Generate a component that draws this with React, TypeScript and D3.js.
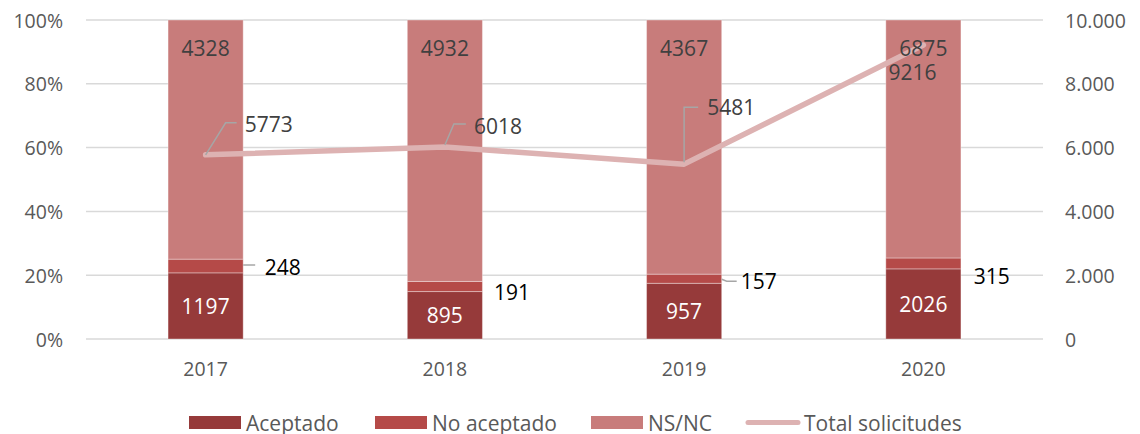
import React from 'react';
import * as d3 from 'd3';

const years = ['2017', '2018', '2019', '2020'];
const aceptado = [1197, 895, 957, 2026];
const noAceptado = [248, 191, 157, 315];
const nsnc = [4328, 4932, 4367, 6875];
const totales = [5773, 6018, 5481, 9216];
const pctTicks = [0, 0.2, 0.4, 0.6, 0.8, 1];
const countTicks = [0, 2000, 4000, 6000, 8000, 10000];
const seriesNames = ['Aceptado', 'No aceptado', 'NS/NC', 'Total solicitudes'];

const colors = ['#963A3A', '#B54A48', '#C87C7B', '#DDB2B2'];

// hand-placed label offsets (Excel moved these by hand)
const totalLabelPos = [
  { leader: [[0, 0], [20, -32], [31, -32]], dx: 39, dy: -31 },
  { leader: [[0, -2], [9, -23], [21, -23]], dx: 29, dy: -21 },
  { leader: [[0, -2], [0, -57], [14, -57]], dx: 23, dy: -57 },
  { leader: [], dx: -35, dy: 27 },
];
const noAcepLabelPos = [
  { leader: [[0, -1], [12, -1]], dx: 21.5, dy: 1 },
  { leader: [], dx: 11.5, dy: 5.5 },
  { leader: [[0, 0.5], [5, 2.5], [15, 2.5]], dx: 19, dy: 2.5 },
  { leader: [], dx: 12.7, dy: 12.5 },
];

const W = 1140;
const H = 434;
const font = '"Open Sans", sans-serif';

export default function App() {
  const x = d3.scaleBand<string>().domain(years).range([86, 1043]).padding(0);
  const barW = x.bandwidth() * 0.314;
  const yPct = d3.scaleLinear().domain([0, 1]).range([339, 20]);
  const yCount = d3.scaleLinear().domain([0, 10000]).range([339, 20]);
  const fmtCount = d3.formatLocale({ decimal: ',', thousands: '.', grouping: [3], currency: ['', '€'] }).format(',d');

  const cx = (i: number) => (x(years[i]) || 0) + x.bandwidth() / 2;

  const stacks = years.map((_, i) => {
    const tot = aceptado[i] + noAceptado[i] + nsnc[i];
    const a = aceptado[i] / tot;
    const b = a + noAceptado[i] / tot;
    return [[0, a], [a, b], [b, 1]];
  });

  const line = d3.line<number>()
    .x((_, i) => cx(i))
    .y(d => yCount(d));

  const leaderPath = d3.line<number[]>().x(p => p[0]).y(p => p[1]);

  const legendItems = [
    { x: 189, textX: 246 },
    { x: 375, textX: 432 },
    { x: 591, textX: 648 },
    { x: 745, textX: 804 },
  ];

  return (
    <svg width={W} height={H} style={{ position: 'absolute', left: 0, top: 0, background: '#fff' }} fontFamily={font}>
      {/* gridlines */}
      {pctTicks.map(t => (
        <line key={t} x1={86} x2={1043} y1={yPct(t)} y2={yPct(t)} stroke="#D9D9D9" strokeWidth={1.5} />
      ))}

      {/* left axis */}
      {pctTicks.map(t => (
        <text key={t} x={63} y={yPct(t)} textAnchor="end" dominantBaseline="central" fontSize={19.5} fill="#595959">
          {Math.round(t * 100)}%
        </text>
      ))}

      {/* right axis */}
      {countTicks.map(t => (
        <text key={t} x={1065} y={yCount(t)} dominantBaseline="central" fontSize={19.5} fill="#595959">
          {fmtCount(t)}
        </text>
      ))}

      {/* x labels */}
      {years.map((yr, i) => (
        <text key={yr} x={cx(i)} y={368} textAnchor="middle" dominantBaseline="central" fontSize={19.5} fill="#595959">
          {yr}
        </text>
      ))}

      {/* stacked bars */}
      {stacks.map((segs, i) => (
        <g key={i}>
          {segs.map((s, j) => (
            <rect
              key={j}
              x={cx(i) - barW / 2}
              y={yPct(s[1])}
              width={barW}
              height={yPct(s[0]) - yPct(s[1])}
              fill={colors[j]}
              stroke="#ffffff"
              strokeOpacity={0.35}
              strokeWidth={1}
            />
          ))}
        </g>
      ))}

      {/* total line */}
      <path d={line(totales) || undefined} fill="none" stroke={colors[3]} strokeWidth={5.5} strokeLinecap="round" strokeLinejoin="round" />

      {/* aceptado labels */}
      {stacks.map((segs, i) => (
        <text key={i} x={cx(i)} y={(yPct(segs[0][0]) + yPct(segs[0][1])) / 2} textAnchor="middle" dominantBaseline="central" fontSize={21} fill="#ffffff">
          {aceptado[i]}
        </text>
      ))}

      {/* no aceptado labels */}
      {stacks.map((segs, i) => {
        const bx = cx(i) + barW / 2;
        const my = (yPct(segs[1][0]) + yPct(segs[1][1])) / 2;
        const pos = noAcepLabelPos[i];
        return (
          <g key={i}>
            {pos.leader.length > 0 && (
              <path d={leaderPath(pos.leader.map(p => [bx + p[0], my + p[1]])) || undefined} fill="none" stroke="#A6A6A6" strokeWidth={1.5} />
            )}
            <text x={bx + pos.dx} y={my + pos.dy} dominantBaseline="central" fontSize={21} fill="#000000">
              {noAceptado[i]}
            </text>
          </g>
        );
      })}

      {/* ns/nc labels (inside end) */}
      {years.map((_, i) => (
        <text key={i} x={cx(i)} y={yPct(1) + 28} textAnchor="middle" dominantBaseline="central" fontSize={21} fill="#404040">
          {nsnc[i]}
        </text>
      ))}

      {/* total labels */}
      {totales.map((v, i) => {
        const px = cx(i);
        const py = yCount(v);
        const pos = totalLabelPos[i];
        return (
          <g key={i}>
            {pos.leader.length > 0 && (
              <path d={leaderPath(pos.leader.map(p => [px + p[0], py + p[1]])) || undefined} fill="none" stroke="#A6A6A6" strokeWidth={1.5} />
            )}
            <text x={px + pos.dx} y={py + pos.dy} dominantBaseline="central" fontSize={21} fill="#404040">
              {v}
            </text>
          </g>
        );
      })}

      {/* legend */}
      {seriesNames.map((name, i) => (
        <g key={name}>
          {i < 3 ? (
            <rect x={legendItems[i].x} y={416} width={52} height={13} fill={colors[i]} />
          ) : (
            <line x1={legendItems[i].x + 3} x2={legendItems[i].x + 53} y1={422.5} y2={422.5} stroke={colors[3]} strokeWidth={5} strokeLinecap="round" />
          )}
          <text x={legendItems[i].textX} y={422.5} dominantBaseline="central" fontSize={21} fill="#595959">
            {name}
          </text>
        </g>
      ))}
    </svg>
  );
}
